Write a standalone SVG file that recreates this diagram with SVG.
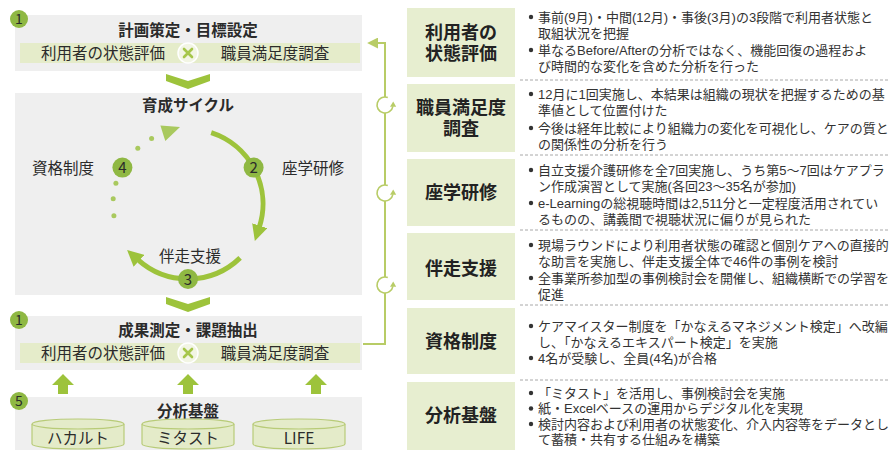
<svg xmlns="http://www.w3.org/2000/svg" width="890" height="450" viewBox="0 0 890 450">
<defs>
<style>
text{font-family:"Noto Sans CJK JP","Noto Sans",sans-serif;fill:#2b2b2b}
.panel{fill:#efefef}
.strip{fill:#e5ecca}
.ttl{font-size:15.5px;font-weight:bold;text-anchor:middle}
.item{font-size:15.5px;text-anchor:middle}
.badge{fill:#8fb843}
.bnum{font-size:14px;text-anchor:middle}
.xc{fill:#f2f5e3;stroke:#ffffff;stroke-width:1.5}
.xm{stroke:#a6c64a;stroke-width:2.6;stroke-linecap:round}
.chev{fill:#9dc33b}
.arc{fill:none;stroke:#9dc33b;stroke-width:5}
.dot{fill:#a9c95e}
.lbl{font-size:15.5px;text-anchor:middle}
.up{fill:#9dc33b}
.cyl{fill:#e4ebc9;stroke:#b8cb78;stroke-width:1.2}
.conn{fill:none;stroke:#b8cc66;stroke-width:2}
.ico{fill:none;stroke:#b8cc66;stroke-width:1.6}
.lbox{fill:#e7eed0}
.ltxt{font-family:"Liberation Sans","Noto Sans CJK JP",sans-serif;font-size:18px;font-weight:bold;text-anchor:middle;fill:#222}
.desc{font-family:"Liberation Sans","Noto Sans CJK JP",sans-serif;font-size:13px;fill:#333}
.bul{fill:#333}
.sep{stroke:#a8a8a8;stroke-width:1;stroke-dasharray:3 2}
</style>
<marker id="ah" viewBox="0 0 10 10" refX="1" refY="5" markerWidth="16" markerHeight="16" markerUnits="userSpaceOnUse" orient="auto">
<path d="M0,0 L10,5 L0,10 z" fill="#9dc33b"/>
</marker>
<marker id="ahc" viewBox="0 0 10 10" refX="1" refY="5" markerWidth="11" markerHeight="11" markerUnits="userSpaceOnUse" orient="auto">
<path d="M0,0 L10,5 L0,10 z" fill="#b8cc66"/>
</marker>
</defs>

<rect width="890" height="450" fill="#ffffff"/>

<!-- Left: plan box -->
<g id="plan">
<rect class="panel" x="15" y="15" width="347" height="56"/>
<rect class="strip" x="20" y="43" width="340" height="20"/>
<text class="ttl" x="188" y="36">計画策定・目標設定</text>
<text class="item" x="103" y="58.5">利用者の状態評価</text>
<text class="item" x="275" y="58.5">職員満足度調査</text>
<circle class="xc" cx="188" cy="53" r="10"/>
<path class="xm" d="M184,49 L192,57 M192,49 L184,57"/>
<circle class="badge" cx="19" cy="19" r="9"/>
<text class="bnum" x="19" y="24">1</text>
</g>

<polygon id="chev1" class="chev" points="166,74 188,81 210,74 210,81 188,89 166,81"/>

<!-- Cycle -->
<g id="cycle">
<rect class="panel" x="15" y="93" width="347" height="202"/>
<text class="ttl" x="188" y="111">育成サイクル</text>
<path class="arc" d="M211.2,132.7 A75,75 0 0 1 259.3,227.2" marker-end="url(#ah)"/>
<path class="arc" d="M240.1,257.9 A75,75 0 0 1 137.8,259.7" marker-end="url(#ah)"/>
<circle class="dot" cx="113.9" cy="215.7" r="2.5"/>
<circle class="dot" cx="113.2" cy="198.8" r="2.5"/>
<circle class="dot" cx="115.9" cy="183.3" r="2.5"/>
<circle class="dot" cx="137.8" cy="148.3" r="2.5"/>
<circle class="dot" cx="151.6" cy="138.4" r="2.5"/>
<polygon fill="#a9c95e" points="180,127 160.4,125.5 165.3,141"/>
<circle class="badge" cx="253.6" cy="167.6" r="10"/>
<text class="bnum" x="253.6" y="173" style="font-size:15px">2</text>
<circle class="badge" cx="188" cy="279" r="10"/>
<text class="bnum" x="188" y="284.5" style="font-size:15px">3</text>
<circle class="badge" cx="122.4" cy="167.6" r="10"/>
<text class="bnum" x="122.4" y="173" style="font-size:15px">4</text>
<text class="lbl" x="313" y="173.5">座学研修</text>
<text class="lbl" x="63" y="173.5">資格制度</text>
<text class="lbl" x="190" y="261.5">伴走支援</text>
</g>

<polygon id="chev2" class="chev" points="166,297 188,304 210,297 210,304 188,312 166,304"/>

<!-- Result box -->
<g id="result">
<rect class="panel" x="15" y="316" width="347" height="54"/>
<rect class="strip" x="20" y="343" width="340" height="20"/>
<text class="ttl" x="188" y="336">成果測定・課題抽出</text>
<text class="item" x="103" y="358.5">利用者の状態評価</text>
<text class="item" x="275" y="358.5">職員満足度調査</text>
<circle class="xc" cx="188" cy="353" r="10"/>
<path class="xm" d="M184,349 L192,357 M192,349 L184,357"/>
<circle class="badge" cx="19" cy="320" r="9"/>
<text class="bnum" x="19" y="325">1</text>
</g>

<!-- Up arrows -->
<g id="uparrows">
<polygon class="up" points="63,374 74,385 68,385 68,394 58,394 58,385 52,385"/>
<polygon class="up" points="188,374 199,385 193,385 193,394 183,394 183,385 177,385"/>
<polygon class="up" points="316,374 327,385 321,385 321,394 311,394 311,385 305,385"/>
</g>

<!-- Analysis base -->
<g id="base">
<rect class="panel" x="15" y="397" width="347" height="53"/>
<text class="ttl" x="188" y="417">分析基盤</text>
<circle class="badge" cx="19" cy="401" r="9"/>
<text class="bnum" x="19" y="406">5</text>
<g id="db1">
<path class="cyl" d="M32,424 V444 A46,5 0 0 0 124,444 V424"/>
<ellipse class="cyl" cx="78" cy="424" rx="46" ry="5"/>
<text class="item" x="78" y="444">ハカルト</text>
</g>
<g id="db2">
<path class="cyl" d="M142,424 V444 A46,5 0 0 0 234,444 V424"/>
<ellipse class="cyl" cx="188" cy="424" rx="46" ry="5"/>
<text class="item" x="188" y="444">ミタスト</text>
</g>
<g id="db3">
<path class="cyl" d="M253,424 V444 A46,5 0 0 0 345,444 V424"/>
<ellipse class="cyl" cx="299" cy="424" rx="46" ry="5"/>
<text class="item" x="299" y="444">LIFE</text>
</g>
</g>

<!-- Feedback connector -->
<g id="connectors">
<path class="conn" d="M363,344 H385 V43 H377" marker-end="url(#ahc)"/>
<g id="ico1">
<circle cx="385" cy="105" r="8" fill="#ffffff"/>
<path class="ico" d="M387.8,97.5 A8,8 0 1 0 392.9,106.4"/>
<polygon fill="#b8cc66" points="393.2,101.5 396.2,106.8 390,106.8"/>
</g>
<g id="ico2">
<circle cx="385" cy="193" r="8" fill="#ffffff"/>
<path class="ico" d="M387.8,185.5 A8,8 0 1 0 392.9,194.4"/>
<polygon fill="#b8cc66" points="393.2,189.5 396.2,194.8 390,194.8"/>
</g>
<g id="ico3">
<circle cx="385" cy="285" r="8" fill="#ffffff"/>
<path class="ico" d="M387.8,277.5 A8,8 0 1 0 392.9,286.4"/>
<polygon fill="#b8cc66" points="393.2,281.5 396.2,286.8 390,286.8"/>
</g>
</g>

<!-- Right panel -->
<g id="row1">
<rect class="lbox" x="407" y="8" width="108" height="69"/>
<text class="ltxt" x="461" y="39">利用者の<tspan x="461" dy="21">状態評価</tspan></text>
<circle class="bul" cx="531" cy="17" r="2.2"/>
<text class="desc" x="538" y="21.5">事前(9月)・中間(12月)・事後(3月)の3段階で利用者状態と<tspan x="538" dy="16.5">取組状況を把握</tspan></text>
<circle class="bul" cx="531" cy="50" r="2.2"/>
<text class="desc" x="538" y="54.5">単なるBefore/Afterの分析ではなく、機能回復の過程およ<tspan x="538" dy="16.5">び時間的な変化を含めた分析を行った</tspan></text>
</g>
<line class="sep" x1="520" y1="80" x2="890" y2="80"/>

<g id="row2">
<rect class="lbox" x="407" y="84" width="108" height="68"/>
<text class="ltxt" x="461" y="114">職員満足度<tspan x="461" dy="21">調査</tspan></text>
<circle class="bul" cx="531" cy="94" r="2.2"/>
<text class="desc" x="538" y="98.5">12月に1回実施し、本結果は組織の現状を把握するための基<tspan x="538" dy="16.5">準値として位置付けた</tspan></text>
<circle class="bul" cx="531" cy="128" r="2.2"/>
<text class="desc" x="538" y="132.5">今後は経年比較により組織力の変化を可視化し、ケアの質と<tspan x="538" dy="16.5">の関係性の分析を行う</tspan></text>
</g>
<line class="sep" x1="520" y1="155" x2="890" y2="155"/>

<g id="row3">
<rect class="lbox" x="407" y="159" width="108" height="67"/>
<text class="ltxt" x="461" y="198.5">座学研修</text>
<circle class="bul" cx="531" cy="170" r="2.2"/>
<text class="desc" x="538" y="174.5">自立支援介護研修を全7回実施し、うち第5～7回はケアプラ<tspan x="538" dy="16.5">ン作成演習として実施(各回23～35名が参加)</tspan></text>
<circle class="bul" cx="531" cy="203" r="2.2"/>
<text class="desc" x="538" y="207.5">e-Learningの総視聴時間は2,511分と一定程度活用されてい<tspan x="538" dy="16.5">るものの、講義間で視聴状況に偏りが見られた</tspan></text>
</g>
<line class="sep" x1="520" y1="230" x2="890" y2="230"/>

<g id="row4">
<rect class="lbox" x="407" y="233" width="108" height="67"/>
<text class="ltxt" x="461" y="274.5">伴走支援</text>
<circle class="bul" cx="531" cy="245" r="2.2"/>
<text class="desc" x="538" y="249.5">現場ラウンドにより利用者状態の確認と個別ケアへの直接的<tspan x="538" dy="16.5">な助言を実施し、伴走支援全体で46件の事例を検討</tspan></text>
<circle class="bul" cx="531" cy="278" r="2.2"/>
<text class="desc" x="538" y="282.5">全事業所参加型の事例検討会を開催し、組織横断での学習を<tspan x="538" dy="16.5">促進</tspan></text>
</g>
<line class="sep" x1="520" y1="305" x2="890" y2="305"/>

<g id="row5">
<rect class="lbox" x="407" y="308" width="108" height="66"/>
<text class="ltxt" x="461" y="347.5">資格制度</text>
<circle class="bul" cx="531" cy="326" r="2.2"/>
<text class="desc" x="538" y="330.5">ケアマイスター制度を「かなえるマネジメント検定」へ改編<tspan x="538" dy="16.5">し、「かなえるエキスパート検定」を実施</tspan></text>
<circle class="bul" cx="531" cy="358" r="2.2"/>
<text class="desc" x="538" y="362.5">4名が受験し、全員(4名)が合格</text>
</g>
<line class="sep" x1="520" y1="380" x2="890" y2="380"/>

<g id="row6">
<rect class="lbox" x="407" y="382" width="108" height="68"/>
<text class="ltxt" x="461" y="421.5">分析基盤</text>
<circle class="bul" cx="531" cy="393" r="2.2"/>
<circle class="bul" cx="531" cy="408.5" r="2.2"/>
<circle class="bul" cx="531" cy="424" r="2.2"/>
<text class="desc" x="538" y="397.5">「ミタスト」を活用し、事例検討会を実施<tspan x="538" dy="15.5">紙・Excelベースの運用からデジタル化を実現</tspan><tspan x="538" dy="15.5">検討内容および利用者の状態変化、介入内容等をデータとし</tspan><tspan x="538" dy="15.5">て蓄積・共有する仕組みを構築</tspan></text>
</g>
</svg>
